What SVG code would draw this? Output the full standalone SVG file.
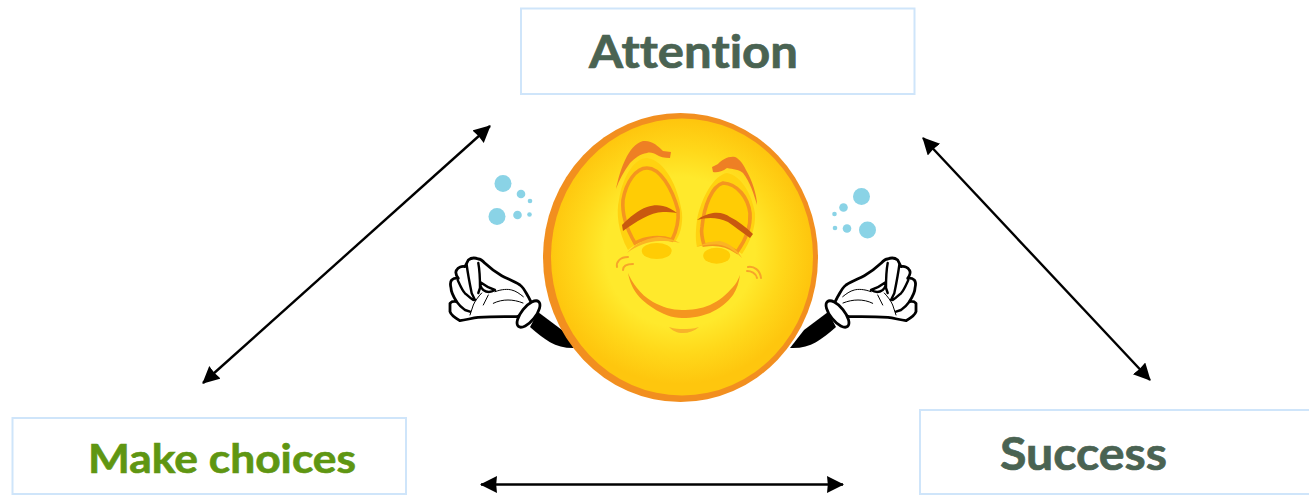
<svg xmlns="http://www.w3.org/2000/svg" width="1309" height="495" viewBox="0 0 1309 495">
<style>
.box{fill:#fff;stroke:#CFE5FA;stroke-width:2}
.lbl{font-family:"Lato","Liberation Sans",sans-serif;font-weight:700;font-size:46px;font-variant-ligatures:none;stroke-width:.7px}
.dark{fill:#4A6352;stroke:#4A6352}
.green{fill:#5F9612;stroke:#5F9612}
.con{fill:none;stroke:#000;stroke-width:2.400;marker-start:url(#ah);marker-end:url(#ah)}
.bub{fill:#8AD3E6}
.glove{fill:#fff;stroke:#000;stroke-width:2.800;stroke-linejoin:round}
.crease{fill:none;stroke:#000;stroke-width:1;stroke-linecap:round}
.gap{fill:none;stroke:#000;stroke-width:2.400;stroke-linecap:round;stroke-linejoin:round}
.ring{fill:#FFCC05;stroke:#F5951F;stroke-width:3.600}
.halo{fill:#FFD210}
.brow{fill:#EE7F24}
.lid{fill:#C9590F}
.arc{fill:#FBB423}
.spot{fill:#FFCC05}
.curl{fill:none;stroke:#F7A42A;stroke-width:2;stroke-linecap:round}
</style>
<defs>
<marker id="ah" markerUnits="userSpaceOnUse" markerWidth="18" markerHeight="18" refX="16" refY="8.500" orient="auto-start-reverse"><path d="M0,0 L17,8.500 L0,17 L.8,8.500 Z" fill="#000"/></marker>
<radialGradient id="face" gradientUnits="userSpaceOnUse" cx="680" cy="252" r="150">
<stop offset="0" stop-color="#FFE92C"/><stop offset=".5" stop-color="#FFE92C"/><stop offset=".68" stop-color="#FFD81A"/><stop offset=".88" stop-color="#FEC60E"/>
</radialGradient>
<g id="hand">
<path d="M538,312 L562,330 L576,348 C556,349 545,340 530,327 Z" fill="#000"/>
<path class="glove" d="M468.300,260 C472,257 476,258 478.300,259 C481,259 483,261 485,263.300 C490,268 495,272 501.700,275.700 C508,279 514,281 520,285 C524,288 526,293 528.300,296.700 L533,306 C528,312 522,316 516.700,316.700 C504,316.500 491,316.500 478,317.300 C472,318 466,320 460,320.700 C455,318 451,315 450,311.700 L450,303.300 C452,301 454,301 456.700,301.700 C453,296 451,292 451,288 C450,284 450,282 451.700,280 C454,278 456,278 458.300,278.300 C456,275 455,272 456.700,270 C458,267 462,266 465,266.700 Z"/>
<path class="gap" d="M466.700,265 C468,275 470,285 471.700,293.300 L475,300 M457.700,280 C460,285 462,290 465,293.300 C468,296 470,298 473.300,300 M456.700,301.700 C459,305 462,308 465,310 L470,311.700 M478.300,263 C480,272 480,280 480,288 L478.300,293 M480,282 C480,286 481,288 483.300,290 C486,292 490,293 495,290 C489,288 484,285 480,282 Z"/>
<path class="crease" d="M495,291.700 C502,289 508,289 511.700,290 C516,291 520,294 523.300,296.700 M493.300,303.300 C498,301 503,300 508,300 C513,300 518,301 523,303 M488.300,295 L483.300,305 M481.700,293 C478,297 475,301 473.300,305 L470,315"/>
<ellipse class="glove" cx="528.500" cy="314" rx="16" ry="7" transform="rotate(-51 528.500 314)"/>
</g>
</defs>
<rect width="1309" height="495" fill="#fff"/>
<g id="connectors">
<line class="con" x1="490" y1="126" x2="203" y2="383"/>
<line class="con" x1="923" y1="138" x2="1150" y2="380"/>
<line class="con" x1="481" y1="484.500" x2="843" y2="484.500"/>
</g>
<g id="node-attention">
<rect class="box" x="521" y="8.500" width="393.500" height="85.500"/>
<text class="lbl dark" x="589" y="68" textLength="209" lengthAdjust="spacingAndGlyphs">Attention</text>
</g>
<g id="node-make-choices">
<rect class="box" x="12.500" y="418" width="393.500" height="76"/>
<text class="lbl green" style="font-size:41px" x="88" y="472.500" textLength="268" lengthAdjust="spacingAndGlyphs">Make choices</text>
</g>
<g id="node-success">
<rect class="box" x="920" y="410" width="395" height="84"/>
<text class="lbl dark" x="1000" y="470" textLength="167" lengthAdjust="spacingAndGlyphs">Success</text>
</g>
<g id="node-smiley">
<use href="#hand"/>
<use href="#hand" transform="translate(1366,0) scale(-1,1)"/>
<ellipse cx="680.500" cy="257.500" rx="137.500" ry="144.500" fill="#F28F1F"/>
<ellipse cx="682" cy="257" rx="131" ry="138.500" fill="url(#face)"/>
<g class="bub">
<circle cx="503" cy="183.500" r="8.500"/><circle cx="521" cy="194" r="4.300"/><circle cx="530" cy="201" r="2.300"/>
<circle cx="497" cy="216.500" r="8.500"/><circle cx="517.500" cy="215" r="4.300"/><circle cx="529.500" cy="214.500" r="2.300"/>
<circle cx="861.500" cy="196.500" r="8.500"/><circle cx="843.500" cy="207.500" r="4.300"/><circle cx="834.500" cy="214" r="2.300"/>
<circle cx="867.500" cy="230" r="8.500"/><circle cx="847" cy="228.500" r="4.300"/><circle cx="835" cy="228" r="2.300"/>
</g>
<!-- left eye -->
<path class="halo" d="M628,250 C618,232 616,212 619,200 C623,175 635,158 647,158 C664,160 678,185 682,213 C683,225 680,235 675,242 C660,236 642,238 628,250 Z"/>
<path class="ring" d="M635,243 C626,228 622,212 623,200 C626,182 636,168 647,168 C660,168 672,188 678,210 C679,222 676,232 672,240 C660,236 646,237 635,243 Z"/>
<path class="brow" d="M616,189 C620,170 628,145 643,141 C652,140 658,146 663,151 L671,152 L670,158 C664,158 660,157 657,155 C654,153 650,152 647,153 C640,154 635,158 630,163 C624,171 619,180 616,189 Z"/>
<path class="lid" d="M622,225 C630,217 638,210 647,207 C653,205 658,205 663,206 C668,207 673,210 677,213 C672,212 668,212 663,212 C650,212 636,222 623,231 Z"/>
<!-- right eye -->
<path class="halo" d="M697,247 C695,238 696,228 697,220 C701,198 714,175 727,173 C742,176 752,195 755,213 C756,228 750,242 742,254 C728,244 712,242 697,247 Z"/>
<path class="ring" d="M704,245 C702,238 701,232 702,227 C704,206 712,186 723,183 C738,184 748,198 750,213 C751,227 745,241 737,252 C727,245 715,243 704,245 Z"/>
<path class="brow" d="M757,205 C757,195 752,180 746,170 C743,163 738,158 735,157 C728,156 722,160 718,164 L712,167 L713,172 C716,173 722,172 727,168 C733,169 740,170 743,173 C750,182 754,194 757,205 Z"/>
<path class="lid" d="M697,220 C702,216 707,214 713,213 C720,212 726,214 730,217 C738,221 746,227 753,234 L750,238 C742,232 735,227 728,222 C718,217 707,217 697,220 Z"/>
<!-- cheek arcs and spots -->
<path class="arc" d="M627,253 C632,247 638,243 643,241 C650,238 656,237 660,237 C668,238 675,240 680,243 C672,241 666,241 660,241 C648,241 636,246 627,253 Z"/>
<path class="arc" d="M696,247 C704,243 712,241 720,241 C730,243 738,251 742,258 C735,251 727,246 720,245 C712,244 703,245 696,247 Z"/>
<ellipse class="spot" cx="656.700" cy="251" rx="15" ry="8"/>
<ellipse class="spot" cx="716.700" cy="255.700" rx="13.500" ry="8"/>
<!-- smile -->
<path d="M628,273 C629,279 631,284 633,288 C638,297 645,303 653,308 C662,314 672,318 682,318 C693,318 702,316 710,313 C719,309 728,302 733,295 C737,289 739,282 740,275 C738,280 736,284 733,287 C727,294 719,301 710,305 C701,309 691,310 682,310 C672,310 662,307 653,302 C646,298 641,293 637,288 C633,283 630,278 628,273 Z" fill="#F5951F"/>
<path class="curl" d="M617,267 C616,262 620,257 628,257"/>
<path class="curl" d="M623,270 C623,266 627,264 633,264"/>
<path class="curl" d="M748,267 C754,266 760,270 761,278"/>
<path class="curl" d="M747,271 C751,271 756,273 757,278"/>
<path d="M669,327 C675,329 679,329 683,329 C688,329 693,329 699,327 C694,331 689,333 683,333 C677,333 673,331 669,327 Z" fill="#F8B32A"/>
</g>
</svg>
